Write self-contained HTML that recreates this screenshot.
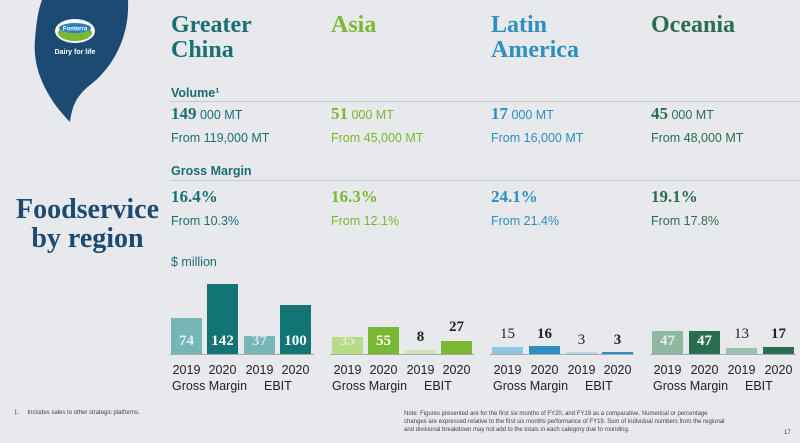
<!DOCTYPE html>
<html><head><meta charset="utf-8"><style>
body{margin:0;width:800px;height:443px;background:#e8e9ed;position:relative;overflow:hidden;font-family:"Liberation Sans",sans-serif}
.a{position:absolute;white-space:nowrap}
.t{font-family:"Liberation Serif",serif;font-weight:bold;font-size:24px;line-height:25px}
.hd{font-size:12.5px;font-weight:bold;color:#1a6f73}
.big{font-family:"Liberation Serif",serif;font-weight:bold;font-size:17px}
.sm{font-size:12.5px}
.b{position:absolute}
.v{position:absolute;width:31px;text-align:center;font-family:"Liberation Serif",serif;font-weight:bold;font-size:15px}
.yr{font-size:12.5px;color:#222}
.y{position:absolute;width:37px;text-align:center;font-size:12.5px;color:#222;top:363px}
.line{position:absolute;height:1px;background:#c9cbd0}
</style></head><body>
<svg class="a" style="left:30px;top:0" width="100" height="122" viewBox="0 0 100 122">
<path d="M12 0 L98 0 C100 40 80 70 60 85 C45 97 42 108 40 122 C18 100 2 70 5 40 C6 25 8 10 12 0Z" fill="#1d4a73"/>
<ellipse cx="45" cy="31" rx="20" ry="12" fill="#fff"/>
<ellipse cx="45" cy="33" rx="17" ry="8" fill="#7ab833"/>
<ellipse cx="45" cy="28" rx="16" ry="5" fill="#2e7fc0"/>
<text x="45" y="30.5" font-size="6" font-family="Liberation Sans" font-weight="bold" fill="#fff" text-anchor="middle">Fonterra</text>
<text x="45" y="54" font-size="7" font-family="Liberation Sans" font-weight="bold" fill="#fff" text-anchor="middle">Dairy for life</text>
</svg>
<div class="a t" style="left:171px;top:13px;color:#1a6f73">Greater<br>China</div>
<div class="a t" style="left:331px;top:13px;color:#7ab833">Asia</div>
<div class="a t" style="left:491px;top:13px;color:#2e8fc0">Latin<br>America</div>
<div class="a t" style="left:651px;top:13px;color:#2a6e50">Oceania</div>
<div class="a hd" style="left:171px;top:86px">Volume¹</div>
<div class="line" style="left:170px;top:101px;width:630px"></div>
<div class="a" style="left:171px;top:104px;color:#1a6f73"><span class="big">149</span><span class="sm"> 000 MT</span></div>
<div class="a sm" style="left:171px;top:131px;color:#1a6f73">From 119,000 MT</div>
<div class="a" style="left:331px;top:104px;color:#7ab833"><span class="big">51</span><span class="sm"> 000 MT</span></div>
<div class="a sm" style="left:331px;top:131px;color:#7ab833">From 45,000 MT</div>
<div class="a" style="left:491px;top:104px;color:#2e8fc0"><span class="big">17</span><span class="sm"> 000 MT</span></div>
<div class="a sm" style="left:491px;top:131px;color:#2e8fc0">From 16,000 MT</div>
<div class="a" style="left:651px;top:104px;color:#2a6e50"><span class="big">45</span><span class="sm"> 000 MT</span></div>
<div class="a sm" style="left:651px;top:131px;color:#2a6e50">From 48,000 MT</div>
<div class="a hd" style="left:171px;top:164px">Gross Margin</div>
<div class="line" style="left:170px;top:180px;width:630px"></div>
<div class="a big" style="left:171px;top:187px;color:#1a6f73">16.4%</div>
<div class="a sm" style="left:171px;top:214px;color:#1a6f73">From 10.3%</div>
<div class="a big" style="left:331px;top:187px;color:#7ab833">16.3%</div>
<div class="a sm" style="left:331px;top:214px;color:#7ab833">From 12.1%</div>
<div class="a big" style="left:491px;top:187px;color:#2e8fc0">24.1%</div>
<div class="a sm" style="left:491px;top:214px;color:#2e8fc0">From 21.4%</div>
<div class="a big" style="left:651px;top:187px;color:#2a6e50">19.1%</div>
<div class="a sm" style="left:651px;top:214px;color:#2a6e50">From 17.8%</div>
<div class="a t" style="left:5px;top:195px;width:165px;text-align:center;color:#1d4a73;font-size:28px;line-height:29px">Foodservice<br>by region</div>
<div class="a sm" style="left:171px;top:255px;color:#1a6f73">$ million</div>

<div class="line" style="left:170px;top:354px;width:144px;background:#aaa"></div>
<div class="line" style="left:330px;top:354px;width:144px;background:#aaa"></div>
<div class="line" style="left:490px;top:354px;width:144px;background:#aaa"></div>
<div class="line" style="left:650px;top:354px;width:146px;background:#aaa"></div>

<div class="b" style="left:171px;top:318px;width:31px;height:36px;background:#76b6b6"></div>
<div class="b" style="left:207px;top:284px;width:31px;height:70px;background:#127474"></div>
<div class="b" style="left:244px;top:336px;width:31px;height:18px;background:#76b6b6"></div>
<div class="b" style="left:280px;top:305px;width:31px;height:49px;background:#127474"></div>
<div class="v" style="left:171px;top:333px;color:#e6f2f2">74</div>
<div class="v" style="left:207px;top:333px;color:#fff">142</div>
<div class="v" style="left:244px;top:333px;color:#cfe6e6">37</div>
<div class="v" style="left:280px;top:333px;color:#fff">100</div>

<div class="b" style="left:332px;top:337px;width:31px;height:17px;background:#b8db88"></div>
<div class="b" style="left:368px;top:327px;width:31px;height:27px;background:#7ab833"></div>
<div class="b" style="left:405px;top:350px;width:31px;height:4px;background:#cfe6b0"></div>
<div class="b" style="left:441px;top:341px;width:31px;height:13px;background:#7ab833"></div>
<div class="v" style="left:332px;top:333px;color:#e0efcc">35</div>
<div class="v" style="left:368px;top:333px;color:#fff">55</div>
<div class="v" style="left:405px;top:329px;color:#222">8</div>
<div class="v" style="left:441px;top:319px;color:#222">27</div>

<div class="b" style="left:492px;top:347px;width:31px;height:7px;background:#8ec6e4"></div>
<div class="b" style="left:529px;top:346px;width:31px;height:8px;background:#2e8fc0"></div>
<div class="b" style="left:566px;top:352px;width:31px;height:2px;background:#b4d8ec"></div>
<div class="b" style="left:602px;top:352px;width:31px;height:2px;background:#2e8fc0"></div>
<div class="v" style="left:492px;top:326px;color:#222;font-weight:normal">15</div>
<div class="v" style="left:529px;top:326px;color:#222">16</div>
<div class="v" style="left:566px;top:332px;color:#222;font-weight:normal">3</div>
<div class="v" style="left:602px;top:332px;color:#222">3</div>

<div class="b" style="left:652px;top:331px;width:31px;height:23px;background:#8fb8a0"></div>
<div class="b" style="left:689px;top:331px;width:31px;height:23px;background:#2a6e50"></div>
<div class="b" style="left:726px;top:348px;width:31px;height:6px;background:#9fbfae"></div>
<div class="b" style="left:763px;top:347px;width:31px;height:7px;background:#2a6e50"></div>
<div class="v" style="left:652px;top:333px;color:#e4efe8">47</div>
<div class="v" style="left:689px;top:333px;color:#fff">47</div>
<div class="v" style="left:726px;top:326px;color:#222;font-weight:normal">13</div>
<div class="v" style="left:763px;top:326px;color:#222">17</div>

<div class="y" style="left:168px">2019</div><div class="y" style="left:204px">2020</div><div class="y" style="left:241px">2019</div><div class="y" style="left:277px">2020</div>
<div class="y" style="left:329px">2019</div><div class="y" style="left:365px">2020</div><div class="y" style="left:402px">2019</div><div class="y" style="left:438px">2020</div>
<div class="y" style="left:489px">2019</div><div class="y" style="left:526px">2020</div><div class="y" style="left:563px">2019</div><div class="y" style="left:599px">2020</div>
<div class="y" style="left:649px">2019</div><div class="y" style="left:686px">2020</div><div class="y" style="left:723px">2019</div><div class="y" style="left:760px">2020</div>
<div class="a yr" style="left:172px;top:379px">Gross Margin</div><div class="a yr" style="left:264px;top:379px">EBIT</div>
<div class="a yr" style="left:332px;top:379px">Gross Margin</div><div class="a yr" style="left:424px;top:379px">EBIT</div>
<div class="a yr" style="left:493px;top:379px">Gross Margin</div><div class="a yr" style="left:585px;top:379px">EBIT</div>
<div class="a yr" style="left:653px;top:379px">Gross Margin</div><div class="a yr" style="left:745px;top:379px">EBIT</div>

<div class="a" style="left:14px;top:410px;font-size:6px;color:#444">1.&nbsp;&nbsp;&nbsp;&nbsp;&nbsp;Includes sales to other strategic platforms.</div>
<div class="a" style="left:404px;top:410px;font-size:6px;line-height:8px;color:#444">Note: Figures presented are for the first six months of FY20, and FY19 as a comparative. Numerical or percentage<br>changes are expressed relative to the first six months performance of FY19. Sum of individual numbers from the regional<br>and divisional breakdown may not add to the totals in each category due to rounding.</div>
<div class="a" style="left:784px;top:430px;font-size:6px;color:#444">17</div>
</body></html>
